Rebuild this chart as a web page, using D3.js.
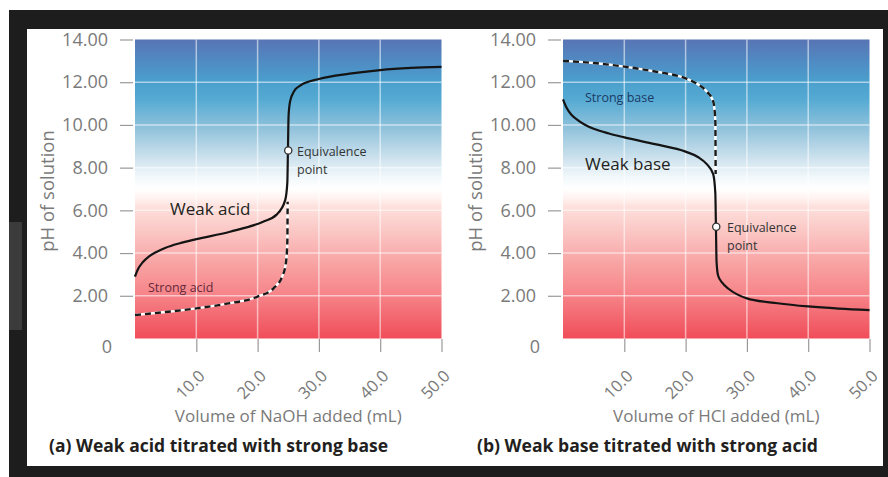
<!DOCTYPE html>
<html>
<head>
<meta charset="utf-8">
<script src="https://cdn.jsdelivr.net/npm/d3@7"></script>
<style>
  html, body { margin: 0; padding: 0; background: #ffffff; }
  svg { display: block; }
</style>
</head>
<body>
<svg id="chart" width="888" height="477"></svg>
<script>
// ---------------- DATA ----------------
const volumeTicks = [10, 20, 30, 40, 50];
const volumeTickLabels = ["10.0", "20.0", "30.0", "40.0", "50.0"];
const phTicks = [0, 2, 4, 6, 8, 10, 12, 14];
const phTickLabels = ["0", "2.00", "4.00", "6.00", "8.00", "10.00", "12.00", "14.00"];
const gridVolumes = [10, 20, 30, 40];
const gridPH = [2, 4, 6, 8, 10, 12];

// (a) weak acid titrated with NaOH (solid)
const weakAcidVolume = [0, 0.5, 1.3, 2.3, 3.5, 5, 7.3, 10, 15.5, 20.9, 23.1, 24.5, 24.85, 24.95, 25.05, 25.3, 26, 27, 30, 35, 40, 45, 50];
const weakAcidPH     = [2.9, 3.25, 3.58, 3.85, 4.05, 4.25, 4.46, 4.65, 5.0, 5.47, 5.8, 6.48, 7.3, 8.8, 10.4, 11.1, 11.6, 11.85, 12.15, 12.4, 12.57, 12.67, 12.72];
// (a) strong acid (dashed)
const strongAcidVolume = [0, 5, 10, 15, 20, 22.6, 24, 24.6, 24.85, 24.9];
const strongAcidPH     = [1.1, 1.24, 1.41, 1.63, 1.96, 2.35, 2.9, 3.5, 4.5, 6.4];
// (b) weak base titrated with HCl (solid)
const weakBaseVolume = [0, 0.5, 1.3, 2.3, 3.5, 5, 7.5, 10, 15, 20, 22, 23.5, 24.5, 24.85, 24.95, 25.05, 25.3, 26, 27, 30, 35, 40, 45, 50];
const weakBasePH     = [11.2, 10.85, 10.5, 10.25, 10.02, 9.82, 9.6, 9.42, 9.1, 8.75, 8.5, 8.15, 7.7, 6.8, 5.2, 3.6, 2.95, 2.6, 2.33, 1.88, 1.65, 1.5, 1.4, 1.33];
// (b) strong base (dashed)
const strongBaseVolume = [0, 5, 10, 15, 20, 22, 23.5, 24.5, 24.85, 24.9];
const strongBasePH     = [13.0, 12.9, 12.73, 12.5, 12.18, 11.9, 11.55, 11.1, 10.2, 7.7];

// equivalence points [volume, pH]
const equivalenceA = [25, 8.8];
const equivalenceB = [25, 5.23];

const xLabels = ["Volume of NaOH added (mL)", "Volume of HCl added (mL)"];
const titles = ["(a) Weak acid titrated with strong base", "(b) Weak base titrated with strong acid"];
const yLabel = "pH of solution";

// ---------------- DRAW ----------------
const svg = d3.select("#chart");
const FONT = "'Open Sans', 'Noto Sans', sans-serif";

// frame
svg.append("rect").attr("x", 0).attr("y", 0).attr("width", 888).attr("height", 477).attr("fill", "#ffffff");
svg.append("rect").attr("x", 9).attr("y", 10).attr("width", 879).attr("height", 467).attr("fill", "#1d1d1d");
svg.append("rect").attr("x", 9).attr("y", 222).attr("width", 13).attr("height", 108).attr("fill", "#3b3b3b");
svg.append("rect").attr("x", 27).attr("y", 29).attr("width", 856).attr("height", 437).attr("fill", "#ffffff");

// gradient
const defs = svg.append("defs");
const grad = defs.append("linearGradient").attr("id", "phGrad")
  .attr("x1", 0).attr("y1", 0).attr("x2", 0).attr("y2", 1);
[
  [0.00, "#5874b4"], [0.08, "#4f8dc4"], [0.14, "#4a9fcd"], [0.20, "#55aad3"],
  [0.30, "#92c3dc"], [0.40, "#cfe3ee"], [0.46, "#f2f8fb"], [0.50, "#ffffff"],
  [0.53, "#fff3f1"], [0.56, "#fde0dc"], [0.65, "#fac4c2"], [0.75, "#f8a3a3"],
  [0.85, "#f6858a"], [1.00, "#f04d59"]
].forEach(([o, c]) => grad.append("stop").attr("offset", o).attr("stop-color", c));

const panels = [
  { ox: 0, solid: [weakAcidVolume, weakAcidPH], dashed: [strongAcidVolume, strongAcidPH], eq: equivalenceA,
    xLabel: xLabels[0], title: titles[0], titleLen: 339,
    bigLabel: "Weak acid", bigPos: [170, 215], smallLabel: "Strong acid", smallPos: [148, 292], smallColor: "#66283a",
    eqText: [297, 156] },
  { ox: 428, solid: [weakBaseVolume, weakBasePH], dashed: [strongBaseVolume, strongBasePH], eq: equivalenceB,
    xLabel: xLabels[1], title: titles[1], titleLen: 341,
    bigLabel: "Weak base", bigPos: [585, 170], smallLabel: "Strong base", smallPos: [585, 102], smallColor: "#1d3a66",
    eqText: [727, 232] }
];

panels.forEach(p => {
  const g = svg.append("g");
  const x = d3.scaleLinear().domain([0, 50]).range([135 + p.ox, 441.5 + p.ox]);
  const y = d3.scaleLinear().domain([0, 14]).range([338.5, 39.5]);

  // plot background
  g.append("rect").attr("x", x(0)).attr("y", y(14))
    .attr("width", x(50) - x(0)).attr("height", y(0) - y(14))
    .attr("fill", "url(#phGrad)");

  // grid
  g.selectAll(".vg").data(gridVolumes).join("line")
    .attr("x1", d => x(d)).attr("x2", d => x(d)).attr("y1", y(14)).attr("y2", y(0))
    .attr("stroke", "#ffffff").attr("stroke-opacity", 0.55).attr("stroke-width", 1.5);
  g.selectAll(".hg").data(gridPH).join("line")
    .attr("x1", x(0)).attr("x2", x(50)).attr("y1", d => y(d)).attr("y2", d => y(d))
    .attr("stroke", "#ffffff").attr("stroke-opacity", 0.55).attr("stroke-width", 1.5);

  // y axis
  const yAxis = d3.axisLeft(y).tickValues(phTicks)
    .tickFormat((d, i) => phTickLabels[i]).tickSize(13).tickPadding(12);
  const ya = g.append("g").attr("transform", `translate(${133 + p.ox},0)`).call(yAxis);
  ya.select(".domain").remove();
  ya.selectAll(".tick line").attr("stroke", "#9a9a9a").attr("stroke-width", 1.2);
  ya.selectAll(".tick text").attr("fill", "#7a7a7a").style("font-family", FONT).style("font-size", "18px");
  ya.selectAll(".tick").filter(d => d === 0).each(function () {
    d3.select(this).select("line").remove();
    d3.select(this).select("text").attr("x", -21).attr("y", 8);
  });

  // x axis
  const xAxis = d3.axisBottom(x).tickValues(volumeTicks)
    .tickFormat((d, i) => volumeTickLabels[i]).tickSize(13);
  const xa = g.append("g").attr("transform", `translate(0,339)`).call(xAxis);
  xa.select(".domain").remove();
  xa.selectAll(".tick line").attr("stroke", "#9a9a9a").attr("stroke-width", 1.2);
  xa.selectAll(".tick text")
    .attr("x", 0).attr("y", 0).attr("dy", 0)
    .attr("transform", "translate(9,38) rotate(-45)")
    .attr("text-anchor", "end")
    .attr("fill", "#7a7a7a").style("font-family", FONT).style("font-size", "16.5px");

  // lines
  const line = d3.line().x(d => x(d[0])).y(d => y(d[1])).curve(d3.curveMonotoneX);
  const dashedPts = d3.zip(p.dashed[0], p.dashed[1]);
  const solidPts = d3.zip(p.solid[0], p.solid[1]);
  g.append("path").attr("d", line(dashedPts)).attr("fill", "none")
    .attr("stroke", "#ffffff").attr("stroke-width", 2.4);
  g.append("path").attr("d", line(dashedPts)).attr("fill", "none")
    .attr("stroke", "#1a1a1a").attr("stroke-width", 2.4).attr("stroke-dasharray", "6,4");
  g.append("path").attr("d", line(solidPts)).attr("fill", "none")
    .attr("stroke", "#141414").attr("stroke-width", 2.2);

  // equivalence point
  g.append("circle").attr("cx", x(p.eq[0])).attr("cy", y(p.eq[1])).attr("r", 3.6)
    .attr("fill", "#ffffff").attr("stroke", "#333").attr("stroke-width", 1.3);
  g.append("text").attr("x", p.eqText[0]).attr("y", p.eqText[1]).text("Equivalence")
    .attr("fill", "#333").style("font-family", FONT).style("font-size", "12.5px");
  g.append("text").attr("x", p.eqText[0]).attr("y", p.eqText[1] + 17.5).text("point")
    .attr("fill", "#333").style("font-family", FONT).style("font-size", "12.5px");

  // curve labels
  g.append("text").attr("x", p.bigPos[0]).attr("y", p.bigPos[1]).text(p.bigLabel)
    .attr("fill", "#231f20").style("font-family", FONT).style("font-size", "17px");
  g.append("text").attr("x", p.smallPos[0]).attr("y", p.smallPos[1]).text(p.smallLabel)
    .attr("fill", p.smallColor).style("font-family", FONT).style("font-size", "12.5px");

  // y label
  g.append("text").attr("transform", `translate(${53.5 + p.ox},${191}) rotate(-90)`)
    .attr("text-anchor", "middle").text(yLabel)
    .attr("fill", "#7a7a7a").style("font-family", FONT).style("font-size", "18.5px");

  // x label
  g.append("text").attr("x", (x(0) + x(50)) / 2).attr("y", 422).attr("text-anchor", "middle")
    .text(p.xLabel).attr("fill", "#7a7a7a").style("font-family", FONT).style("font-size", "17px");

  // title
  g.append("text").attr("x", 49 + p.ox).attr("y", 452).text(p.title)
    .attr("textLength", p.titleLen).attr("lengthAdjust", "spacingAndGlyphs")
    .attr("fill", "#231f20").style("font-family", FONT).style("font-size", "17px").style("font-weight", 700);
});
</script>
</body>
</html>
